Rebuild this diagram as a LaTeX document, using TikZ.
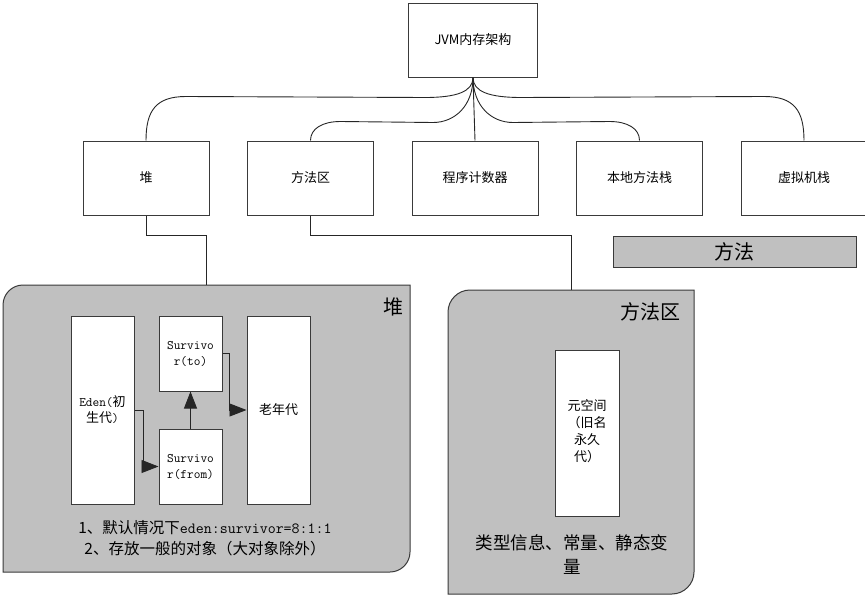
\documentclass[tikz,border=0pt]{standalone}
\usepackage{fontspec}
\setmainfont{Noto Sans CJK SC}
\definecolor{boxgray}{HTML}{C0C0C0}
\definecolor{linegray}{HTML}{3A3A3A}
\usetikzlibrary{arrows.meta, positioning, calc}

\tikzset{
  box/.style = {rectangle, draw = linegray, line width = 1pt, fill = white, minimum width = 126pt, minimum height = 74pt, inner sep = 0pt, align = center, font = \fontsize{13}{16}\selectfont},
  cell/.style = {rectangle, draw = linegray, line width = 1pt, fill = white, minimum width = 63pt, inner sep = 0pt, align = center, font = \fontsize{13}{16}\selectfont},
  region/.style = {draw = linegray, line width = 1pt, fill = boxgray},
  conn/.style = {line width = 0.9pt, draw = black!85},
  arr/.style = {conn, -{Triangle[length=17pt, width=13pt]}}
}

\begin{document}
\begin{tikzpicture}[x=1pt, y=-1pt]
\useasboundingbox (0,0) rectangle (865,597);
% tree of the memory areas
\node[box, minimum width = 129pt] (jvm) at (473,40) {JVM内存架构};
\node[box] (heap) at (146,178) {堆};
\node[box, right = 37.5pt of heap] (method) {方法区};
\node[box, right = 37.5pt of method] (counter) {程序计数器};
\node[box, right = 37.5pt of counter] (native) {本地方法栈};
\node[box, right = 37.5pt of native] (vmstack) {虚拟机栈};
\node[rectangle, draw = linegray, line width = 1pt, fill = boxgray, minimum width = 243pt, minimum height = 31pt, font = \fontsize{20}{24}\selectfont] (methodbar) at (734.5,251.5) {方法};
\draw[conn] (jvm.south) .. controls +(0,14) and +(32,0) .. ($(jvm.south)+(-48,20)$) -- ($(heap.north)+(40,-44)$) .. controls +(-30,0) and +(0,-30) .. (heap.north);
\draw[conn] (jvm.south) .. controls +(0,28) and +(22,0) .. ($(jvm.south)+(-40,45)$) -- ($(method.north)+(30,-19)$) .. controls +(-18,0) and +(0,-12) .. (method.north);
\draw[conn] (jvm.south) -- (counter.north);
\draw[conn] (jvm.south) .. controls +(0,28) and +(-22,0) .. ($(jvm.south)+(40,45)$) -- ($(native.north)+(-30,-19)$) .. controls +(18,0) and +(0,-12) .. (native.north);
\draw[conn] (jvm.south) .. controls +(0,14) and +(-32,0) .. ($(jvm.south)+(48,20)$) -- ($(vmstack.north)+(-40,-44)$) .. controls +(30,0) and +(0,-30) .. (vmstack.north);
% heap region
\coordinate (heaptop) at (206,285);
\draw[region] (3,572) -- (3,305) .. controls (3,294) and (12,285) .. (23,285) -- (410,285) -- (410,552) .. controls (410,563) and (401,572) .. (390,572) -- cycle;
\node[font = \fontsize{20}{24}\selectfont, anchor = east] (heaplabel) at (407,307) {堆};
\node[cell, minimum height = 188pt] (eden) at (102.5,410) {{\ttfamily Eden(}初\\生代{\ttfamily )}};
\node[cell, minimum height = 75pt] (sto) at (190.5,353.5) {\ttfamily Survivo\\\ttfamily r(to)};
\node[cell, minimum height = 75pt] (sfrom) at (190.5,466.5) {\ttfamily Survivo\\\ttfamily r(from)};
\node[cell, minimum height = 188pt] (old) at (278.5,410) {老年代};
\draw[arr] (eden.east) -- ++(9,0) |- (sfrom.west);
\draw[arr] (sfrom.north) -- (sto.south);
\draw[arr] (sto.east) -- ++(7,0) |- (old.west);
\node[align = center, font = \fontsize{15.5}{21}\selectfont] (heapnote) at (205,538.5) {1、默认情况下{\ttfamily eden:survivor=8:1:1}\\2、存放一般的对象（大对象除外）};
\draw[conn] (heap.south) -- ++(0,20) -| (heaptop);
% method area region
\coordinate (methodtop) at (571,290);
\draw[region] (448,594) -- (448,312) .. controls (448,300) and (458,290) .. (470,290) -- (694,290) -- (694,572) .. controls (694,584) and (684,594) .. (672,594) -- cycle;
\node[font = \fontsize{20}{24}\selectfont, anchor = east] (methodlabel) at (684,312) {方法区};
\node[cell, minimum width = 64pt, minimum height = 166pt] (meta) at (587,433) {};
\node[align = center, font = \fontsize{13}{17}\selectfont] (metatext) at (587,431) {元空间\\（旧名\\永久\\代）};
\node[align = center, font = \fontsize{17.5}{24}\selectfont] (methodnote) at (572,555) {类型信息、常量、静态变\\量};
\draw[conn] (method.south) -- ++(0,20) -| (methodtop);
\end{tikzpicture}
\end{document}
